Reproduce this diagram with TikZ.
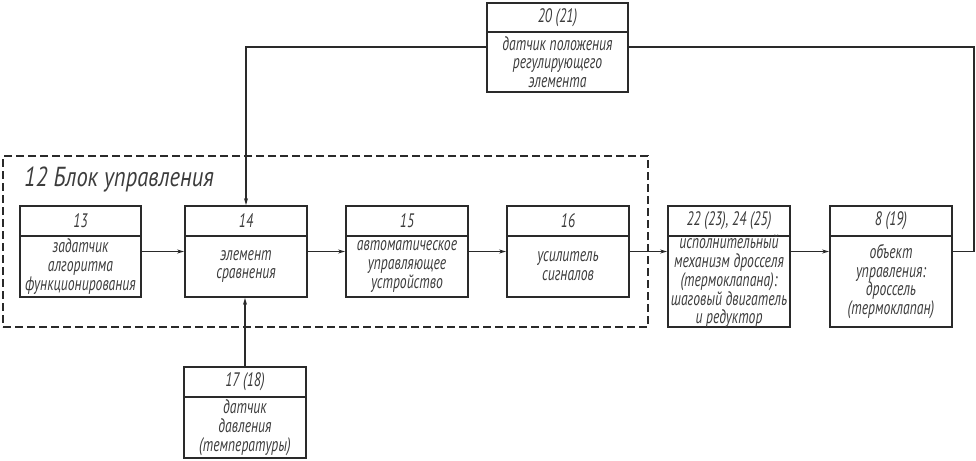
\documentclass[tikz,border=0pt]{standalone}
\usepackage{fontspec}
\setmainfont{PT Sans}[FakeStretch=0.82]
\newfontfamily\boxfont{PT Sans}[FakeStretch=0.7]
\usetikzlibrary{arrows.meta,fit,calc}
\definecolor{linec}{HTML}{2A2A2A}
\definecolor{textc}{HTML}{3C3C3C}
\tikzset{
  box/.style={draw=linec, line width=1.8pt, inner sep=0pt},
  divline/.style={draw=linec, line width=1.8pt},
  hdr/.style={text=textc, inner sep=0pt, font=\boxfont\fontsize{19.5}{20}\selectfont\itshape},
  txt/.style={text=textc, inner sep=0pt, align=center, font=\boxfont\fontsize{19.5}{18.8}\selectfont\itshape},
  conn/.style={draw=linec, line width=1.3pt, -{Stealth[length=7pt,width=4pt]}},
  plain/.style={draw=linec, line width=1.3pt},
  dashbox/.style={draw=linec, line width=1.6pt, dash pattern=on 8pt off 4pt, inner sep=0pt},
}
\newcommand\blk[8]{%
  \node[box, fit={(#2,#3) (#5,#6)}] (#1) {};
  \draw[divline] (#2,#4) -- (#5,#4);
  \node[hdr] (#1h) at ({(#2+#5)/2},{(#3+#4)/2}) {#7};
  \node[txt] (#1t) at ({(#2+#5)/2},{(#4+#6)/2}) {#8};
}
\begin{document}
\begin{tikzpicture}[x=1pt,y=-1pt]
\useasboundingbox (0,0) rectangle (976,460);
% control block container
\node[dashbox, fit={(3,156) (648,327)}] (blk12) {};
\node[anchor=west, text=textc, inner sep=0pt, font=\fontsize{27.5}{28}\selectfont\itshape] (lbl12) at (24,180) {12 Блок управления};
% blocks
\blk{b13}{20}{206}{236}{141}{297}{13}{задатчик\\алгоритма\\функционирования}
\blk{b14}{185}{206}{236}{307}{297}{14}{элемент\\сравнения}
\blk{b15}{346}{206}{236}{468}{297}{15}{автоматическое\\управляющее\\устройство}
\blk{b16}{507}{206}{236}{629}{297}{16}{усилитель\\сигналов}
\blk{b22}{668}{206}{236}{790}{327}{22 (23), 24 (25)}{исполнительный\\механизм дросселя\\(термоклапана):\\шаговый двигатель\\и редуктор}
\blk{b8}{830}{206}{236}{952}{327}{8 (19)}{объект\\управления:\\дроссель\\(термоклапан)}
\blk{b17}{184}{367}{397}{306}{458}{17 (18)}{датчик\\давления\\(температуры)}
\blk{b20}{487}{3}{32}{628}{92}{20 (21)}{датчик положения\\регулирующего\\элемента}
% connectors
\draw[conn] (b13) -- (b14);
\draw[conn] (b14) -- (b15);
\draw[conn] (b15) -- (b16);
\draw[conn] (b16) -- (b16 -| b22.west);
\draw[conn] (b22.east |- b16) -- (b8.west |- b16);
\coordinate (fbR) at (974,47);
\draw[plain] (b8.east |- b16) -| (fbR) -- (b20.east |- fbR);
\draw[conn] (b20.west |- fbR) -| (b14.north);
\draw[conn] (b17.north) -- (b17.north |- b14.south);
\end{tikzpicture}
\end{document}
